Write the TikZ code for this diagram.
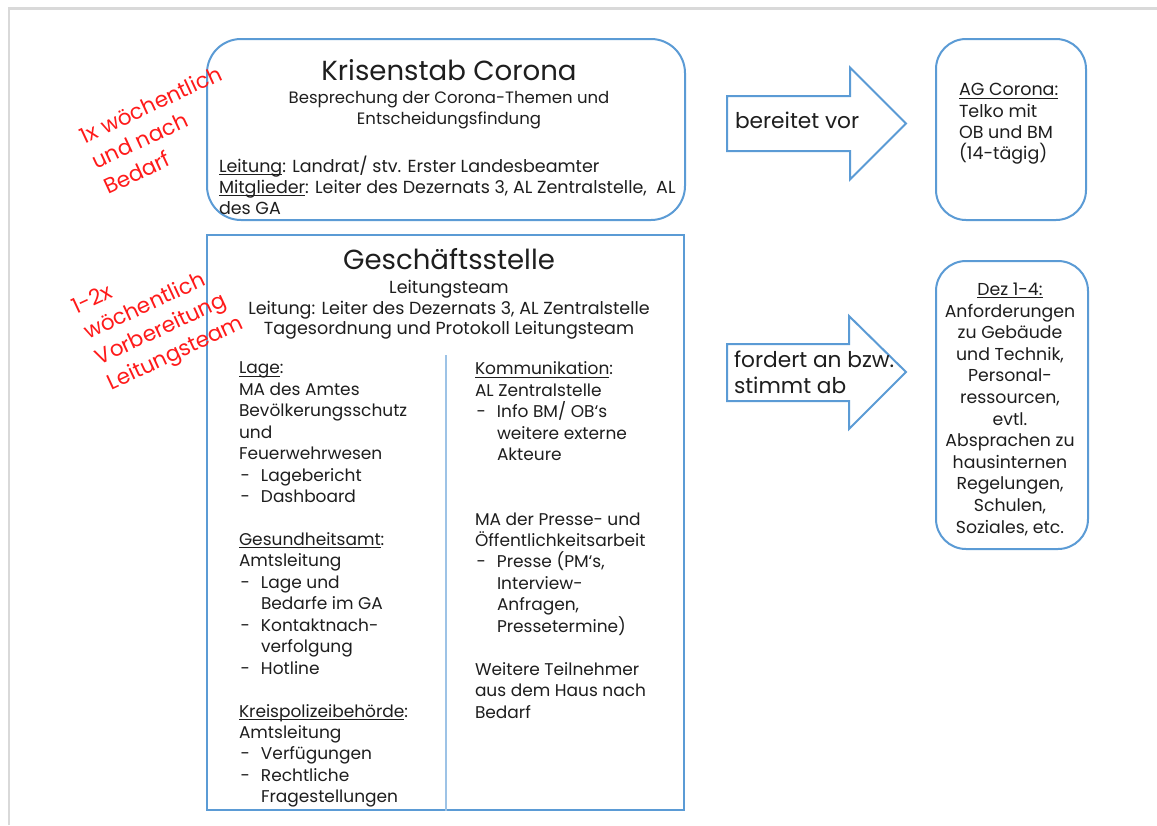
\documentclass[tikz,border=0pt]{standalone}
\usepackage{fontspec}
\setmainfont{Poppins}
\newsavebox\ulbox
\newcommand\uline[1]{\sbox\ulbox{#1}\rlap{\rule[-3pt]{\wd\ulbox}{1pt}}\usebox\ulbox}
\definecolor{blu}{HTML}{5B9BD5}
\definecolor{blulight}{HTML}{9DC3E6}
\definecolor{txtc}{HTML}{1E1E1E}
\definecolor{framec}{HTML}{D9D9D9}
\definecolor{redc}{HTML}{FF1A1A}
\newcommand\bl{\makebox[22pt][l]{\hspace{1.5pt}-}}
\newcommand\ind{\hspace*{22pt}}
\newcommand\bodyf{\fontsize{17}{21.45}\selectfont}
\tikzset{
  rbox/.style={draw=blu, line width=2pt, fill=white, inner sep=0pt},
  blockarrow/.style={draw=blu, line width=2pt, fill=white, line join=miter},
  txt/.style={inner sep=0pt, outer sep=0pt, text=txtc, font=\bodyf, execute at begin node=\strut},
  titlef/.style={inner sep=0pt, outer sep=0pt, text=txtc, font=\fontsize{27.6}{32}\selectfont},
  redtxt/.style={inner sep=0pt, outer sep=0pt, text=redc, font=\fontsize{21.5}{27.8}\selectfont, align=left, rotate=25, anchor=north west, execute at begin node=\strut},
  arrtxt/.style={inner sep=0pt, outer sep=0pt, text=txtc, font=\fontsize{21.7}{26.7}\selectfont, align=left, execute at begin node=\strut},
}
\begin{document}
\begin{tikzpicture}[x=1pt, y=-1pt]
\useasboundingbox (0,0) rectangle (1157,825);
\fill[white] (0,0) rectangle (1157,825);
% page frame
\draw[framec, line width=2.5pt] (9,825) -- (9,8.5) -- (1157,8.5);

% boxes
\node[rbox, rounded corners=34pt, minimum width=478pt, minimum height=181pt] (ks) at (446,129.5) {};
\node[rbox, minimum width=477pt, minimum height=575pt] (gs) at (445.5,522.5) {};
\node[rbox, rounded corners=30pt, minimum width=150pt, minimum height=181pt] (ag) at (1011,129.5) {};
\node[rbox, rounded corners=30pt, minimum width=152pt, minimum height=288pt] (dez) at (1012,405) {};

% divider
\coordinate (divtop) at (446,355);
\draw[blulight, line width=2pt] (divtop) -- (divtop |- gs.south);

% block arrows
\draw[blockarrow] (727,96) -- (850,96) -- (850,67.5) -- (906,123.5) -- (850,179.5) -- (850,151) -- (727,151) -- cycle;
\draw[blockarrow] (727,344) -- (849,344) -- (849,316) -- (906,372) -- (849,429) -- (849,401) -- (727,401) -- cycle;

% Krisenstab texts
\node[titlef, anchor=base] (kstitle) at (449,80.7) {Krisenstab Corona};
\node[txt, align=center, anchor=north, font=\fontsize{16.5}{21}\selectfont] (kssub) at (449,91.3)
  {Besprechung der Corona-Themen und\\Entscheidungsfindung};
\node[txt, align=left, anchor=north west, font=\fontsize{17.5}{21}\selectfont] (ksmem) at (219,156)
  {\uline{Leitung}: Landrat/ stv. Erster Landesbeamter\\\uline{Mitglieder}: Leiter des Dezernats 3, AL Zentralstelle,~~AL\\des GA};

% Geschaeftsstelle texts
\node[titlef, anchor=base] (gstitle) at (449,269) {Geschäftsstelle};
\node[txt, align=center, anchor=north, font=\fontsize{17.5}{20.5}\selectfont] (gssub) at (449,280.6)
  {Leitungsteam\\Leitung: Leiter des Dezernats 3, AL Zentralstelle\\Tagesordnung und Protokoll Leitungsteam};

\node[txt, align=left, anchor=north west] (left) at (239,362)
  {\uline{Lage}:\\
   MA des Amtes\\
   Bevölkerungsschutz\\
   und\\
   Feuerwehrwesen\\
   \bl Lagebericht\\
   \bl Dashboard\\[21.45pt]
   \uline{Gesundheitsamt}:\\
   Amtsleitung\\
   \bl Lage und\\
   \ind Bedarfe im GA\\
   \bl Kontaktnach-\\
   \ind verfolgung\\
   \bl Hotline\\[21.45pt]
   \uline{Kreispolizeibehörde}:\\
   Amtsleitung\\
   \bl Verfügungen\\
   \bl Rechtliche\\
   \ind Fragestellungen};

\node[txt, align=left, anchor=north west] (right) at (475,362)
  {\uline{Kommunikation}:\\
   AL Zentralstelle\\
   \bl Info BM/ OB‘s\\
   \ind weitere externe\\
   \ind Akteure\\[42.9pt]
   MA der Presse- und\\
   Öffentlichkeitsarbeit\\
   \bl Presse (PM‘s,\\
   \ind Interview-\\
   \ind Anfragen,\\
   \ind Pressetermine)\\[21.45pt]
   Weitere Teilnehmer\\
   aus dem Haus nach\\
   Bedarf};

% arrow labels
\node[arrtxt, anchor=north west] (a1txt) at (735,109.6) {bereitet vor};
\node[arrtxt, anchor=north west] (a2txt) at (734,350.6) {fordert an bzw.\\stimmt ab};

% right boxes texts
\node[txt, align=left, anchor=north west, font=\fontsize{17.5}{21.3}\selectfont] (agtxt) at (959,83.4)
  {\uline{AG Corona:}\\Telko mit\\OB und BM\\(14-tägig)};
\node[txt, align=center, anchor=north, font=\fontsize{17.3}{21.6}\selectfont] (deztxt) at (1010,282.9)
  {\uline{Dez 1-4:}\\Anforderungen\\zu Gebäude\\und Technik,\\Personal-\\ressourcen,\\evtl.\\Absprachen zu\\hausinternen\\Regelungen,\\Schulen,\\Soziales, etc.};

% red notes
\node[redtxt] (note1) at (77.8,129.4) {1x wöchentlich\\und nach\\Bedarf};
\node[redtxt] (note2) at (69.8,300.4) {1-2x\\wöchentlich\\Vorbereitung\\Leitungsteam};
\end{tikzpicture}
\end{document}
